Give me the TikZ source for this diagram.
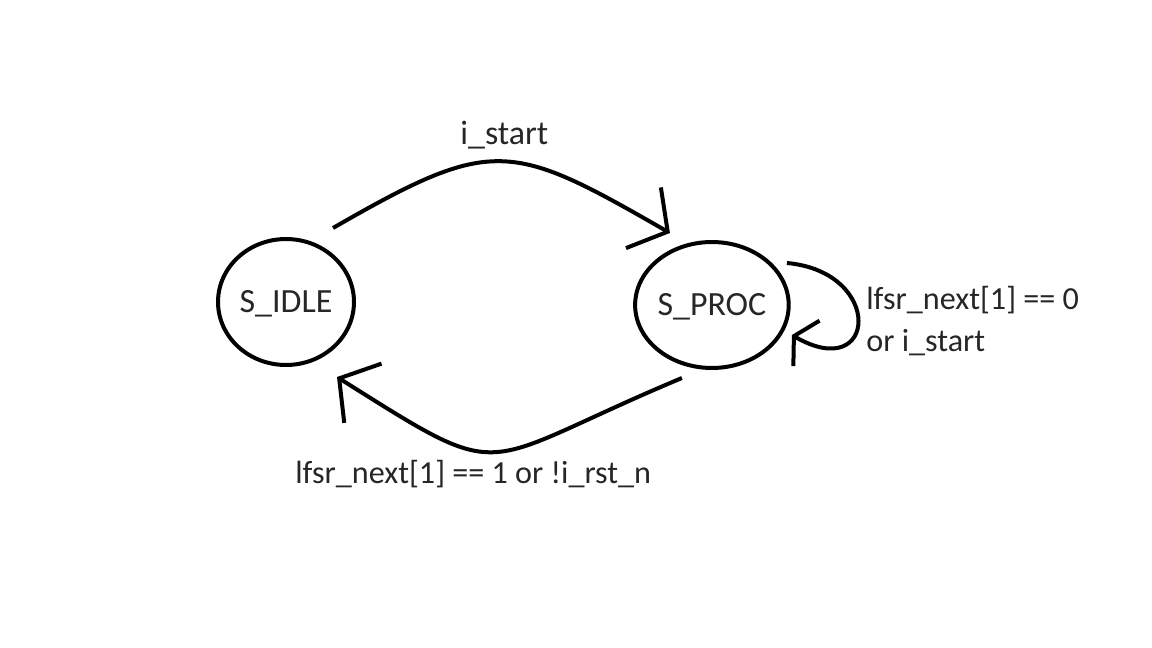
\documentclass[tikz,border=0pt]{standalone}
\usepackage{fontspec}
\setmainfont{Carlito}
\usetikzlibrary{shapes.geometric, arrows.meta, positioning, calc}
\tikzstyle{state} = [ellipse, draw=black, line width=0.08cm, minimum width=2.72cm, minimum height=2.52cm, inner sep=0pt, text height=12.2pt, text depth=0pt, text=black!85, font=\fontsize{19.3}{23}\selectfont]
\tikzstyle{guard} = [anchor=base west, inner sep=0pt, text=black!85, font=\fontsize{18.3}{22}\selectfont]
\tikzstyle{arrow} = [line width=0.08cm, -{Straight Barb[sharp, length=0.56cm, width=1.4cm]}]
\tikzstyle{selfarrow} = [line width=0.08cm, -{Straight Barb[sharp, length=0.29cm, width=1.05cm]}]
\begin{document}
\begin{tikzpicture}[x=0.02cm, y=-0.02cm]
    \useasboundingbox (0,0) rectangle (1152,648);

    \node[state] (idle) at (286,302) {S\_IDLE};
    \node[state, on grid, right=8.52cm of idle, yshift=-0.06cm] (proc) {S\_PROC};

    % connector ends
    \coordinate (idleout) at ($(idle)+(47,-74)$);
    \coordinate (procin) at ($(proc)+(-42,-72)$);
    \coordinate (procout) at ($(proc)+(-30,73)$);
    \coordinate (idlein) at ($(idle)+(51,75)$);
    \coordinate (loopout) at ($(proc)+(75,-42)$);
    \coordinate (loopin) at ($(proc)+(80,30)$);

    \draw[arrow] (idleout) .. controls +(160,-92) and +(-160,-92) .. (procin);
    \draw[arrow] (procout) .. controls +(-210,88) and +(175,110) .. (idlein);
    \draw[selfarrow] (loopout) .. controls +(98,9) and +(85,49) .. (loopin);

    \node[guard, font=\fontsize{19.3}{23}\selectfont] (lstart) at (460,145) {i\_start};
    \node[guard] (lstay) at (866,310) {lfsr\_next[1] == 0};
    \node[guard] (lstay2) at (866,352) {or i\_start};
    \node[guard] (lback) at (295,483) {lfsr\_next[1] == 1 or !i\_rst\_n};
\end{tikzpicture}
\end{document}
